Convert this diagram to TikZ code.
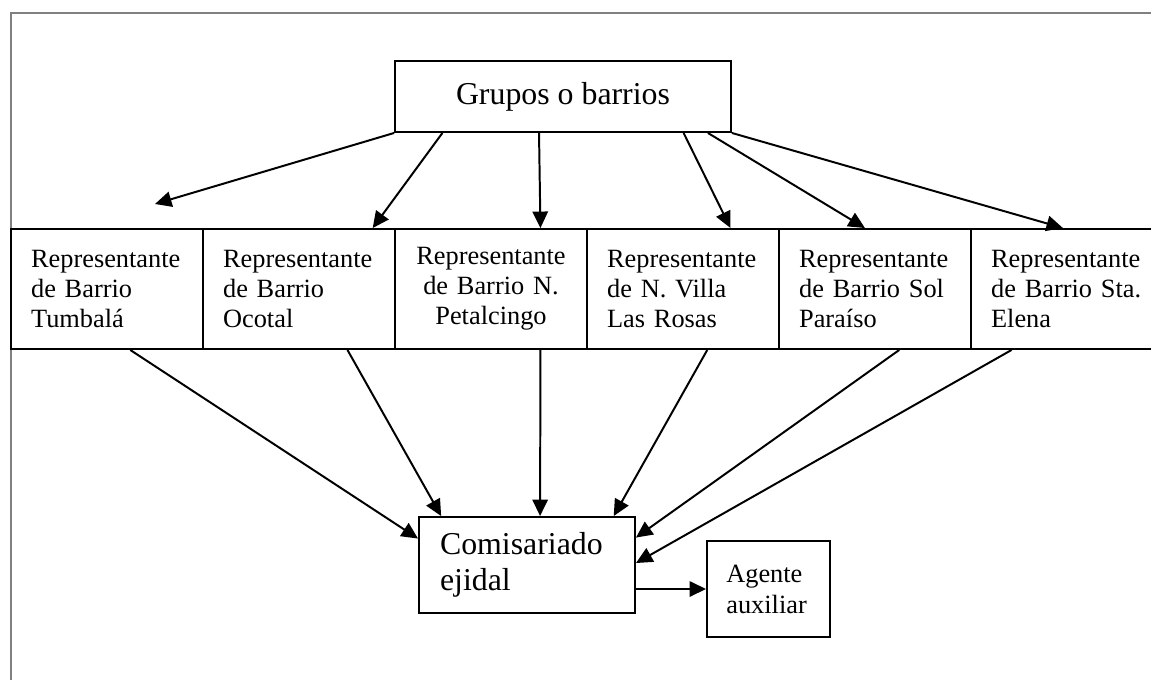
\documentclass[tikz,border=0pt]{standalone}
\usepackage{fontspec}
\setmainfont{Liberation Serif}
\usetikzlibrary{arrows.meta,calc}
\frenchspacing

\begin{document}
\begin{tikzpicture}[x=0.016cm,y=-0.016cm,line width=0.9pt,>={Triangle[length=7.5pt,width=7pt]},
  rep/.style={rectangle, draw, minimum width=3.072cm, minimum height=1.92cm, text width=2.43cm, align=left, inner sep=0pt, font=\fontsize{12}{13.7}\selectfont},
  grupo/.style={rectangle, draw, minimum width=5.376cm, minimum height=1.136cm, inner sep=0pt, font=\fontsize{14.5}{16.5}\selectfont},
  comisario/.style={rectangle, draw, minimum width=3.456cm, minimum height=1.536cm, text width=2.784cm, align=left, inner sep=0pt, font=\fontsize{14.5}{16.4}\selectfont},
  agente/.style={rectangle, draw, minimum width=1.968cm, minimum height=1.536cm, text width=1.35cm, align=left, inner sep=0pt, font=\fontsize{12}{14.1}\selectfont}]
\useasboundingbox (0,0) rectangle (1151,679);
% marco
\draw[gray, line width=0.6pt] (11,700) -- (11,13) -- (1170,13);

\draw (563,96.5) node[grupo] (grupos) {Grupos o barrios};
\draw (107,289) node[rep] (tumbala) {Representante\\de Barrio\\Tumbalá};
\draw (299,289) node[rep] (ocotal) {Representante\\de Barrio\\Ocotal};
\draw (491,289) node[rep, align=center] (petalcingo) {Representante\\de Barrio N.\\Petalcingo};
\draw (683,289) node[rep] (villa) {Representante\\de N. Villa\\Las Rosas};
\draw (875,289) node[rep] (sol) {Representante\\de Barrio Sol\\Paraíso};
\draw (1067,289) node[rep] (elena) {Representante\\de Barrio Sta.\\Elena};
\draw (527,565) node[comisario] (comis) {Comisariado\\ejidal};
\draw (768.5,589) node[agente] (agente) {Agente\\auxiliar};
\coordinate (libre) at (155,204);

\draw [->] (grupos.south west) -- (libre);
\draw [->] ($(grupos.south west)!0.143!(grupos.south east)$) -- ($(ocotal.north west)!0.88!(ocotal.north east)$);
\draw [->] ($(grupos.south west)!0.429!(grupos.south east)$) -- ($(petalcingo.north west)!0.755!(petalcingo.north east)$);
\draw [->] ($(grupos.south west)!0.857!(grupos.south east)$) -- ($(villa.north west)!0.745!(villa.north east)$);
\draw [->] ($(grupos.south west)!0.929!(grupos.south east)$) -- ($(sol.north west)!0.448!(sol.north east)$);
\draw [->] (grupos.south east) -- ($(elena.north west)!0.479!(elena.north east)$);

\draw [->] ($(tumbala.south west)!0.62!(tumbala.south east)$) -- ($(comis.north west)!0.23!(comis.south west)$);
\draw [->] ($(ocotal.south west)!0.75!(ocotal.south east)$) -- ($(comis.north west)!0.106!(comis.north east)$);
\draw [->] ($(petalcingo.south west)!0.755!(petalcingo.south east)$) -- ($(comis.north west)!0.56!(comis.north east)$);
\draw [->] ($(villa.south west)!0.625!(villa.south east)$) -- ($(comis.north west)!0.898!(comis.north east)$);
\draw [->] ($(sol.south west)!0.625!(sol.south east)$) -- ($(comis.north east)!0.22!(comis.south east)$);
\draw [->] ($(elena.south west)!0.214!(elena.south east)$) -- ($(comis.north east)!0.48!(comis.south east)$);

\draw [->] (agente.west -| comis.east) -- (agente.west);
\end{tikzpicture}
\end{document}
